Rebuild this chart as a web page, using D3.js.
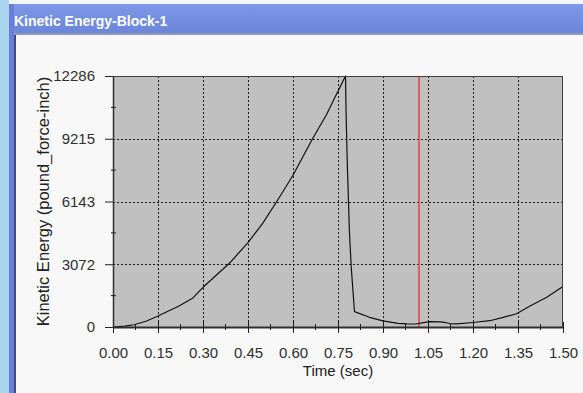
<!DOCTYPE html>
<html>
<head>
<meta charset="utf-8">
<script src="https://cdn.jsdelivr.net/npm/d3@7"></script>
<style>
  html, body { margin: 0; padding: 0; background: #f8f8f8; }
  svg { display: block; font-family: "Liberation Sans", Arial, sans-serif; }
</style>
</head>
<body>
<div id="chart"></div>
<script>
// time (sec) and kinetic energy (pound_force-inch)
const timeValues = [0, 0.04, 0.07, 0.11, 0.15, 0.22, 0.265, 0.30, 0.388, 0.45, 0.50, 0.549, 0.599, 0.666, 0.711,
  0.74, 0.775, 0.777, 0.781, 0.788, 0.794, 0.805, 0.855, 0.90, 0.95, 0.98, 1.01, 1.03, 1.056, 1.09, 1.111, 1.122,
  1.145, 1.20, 1.256, 1.301, 1.345, 1.39, 1.446, 1.496, 1.50];
const energyValues = [0, 40, 110, 280, 538, 1028, 1405, 1943, 3118, 4126, 5100, 6216, 7406, 9236, 10377,
  11250, 12286, 10450, 8000, 4700, 2950, 750, 475, 300, 181, 150, 147, 200, 260, 250, 210, 170,
  150, 220, 308, 475, 650, 1028, 1453, 1943, 1980];

const xTicks = [0, 0.15, 0.30, 0.45, 0.60, 0.75, 0.90, 1.05, 1.20, 1.35, 1.50];
const yTicks = [0, 3072, 6143, 9215, 12286];
const cursorTime = 1.02;

const title = "Kinetic Energy-Block-1";
const xLabel = "Time (sec)";
const yLabel = "Kinetic Energy (pound_force-inch)";

const width = 583, height = 393;
const plot = { left: 113, right: 563, top: 76, bottom: 327 };

const svg = d3.select("#chart").append("svg")
  .attr("width", width)
  .attr("height", height);

// window chrome
const defs = svg.append("defs");
const grad = defs.append("linearGradient").attr("id", "bar").attr("x1", 0).attr("x2", 0).attr("y1", 0).attr("y2", 1);
grad.append("stop").attr("offset", "0%").attr("stop-color", "#7d99e6");
grad.append("stop").attr("offset", "100%").attr("stop-color", "#6a85db");

svg.append("rect").attr("x", 0).attr("y", 0).attr("width", width).attr("height", height).attr("fill", "#f8f8f8");
svg.append("rect").attr("x", 0).attr("y", 0).attr("width", width).attr("height", 4).attr("fill", "#f2f4f8");
svg.append("rect").attr("x", 9).attr("y", 4).attr("width", width - 9).attr("height", 30).attr("fill", "url(#bar)");
svg.append("rect").attr("x", 9).attr("y", 33).attr("width", width - 9).attr("height", 2).attr("fill", "#8f98b8");
svg.append("rect").attr("x", 0).attr("y", 0).attr("width", 9).attr("height", height).attr("fill", "#a9d6ee");
svg.append("rect").attr("x", 9).attr("y", 4).attr("width", 5).attr("height", height).attr("fill", "#6b7dd6");
svg.append("rect").attr("x", 14).attr("y", 35).attr("width", 2).attr("height", height).attr("fill", "#3a4a8a");

svg.append("text")
  .attr("x", 14)
  .attr("y", 26)
  .attr("fill", "#ffffff")
  .attr("font-size", "14px")
  .attr("font-weight", "bold")
  .text(title);

// scales
const x = d3.scaleLinear().domain([0, 1.5]).range([plot.left, plot.right]);
const y = d3.scaleLinear().domain([0, 12286]).range([plot.bottom, plot.top]);

// plot background
svg.append("rect")
  .attr("x", plot.left)
  .attr("y", plot.top)
  .attr("width", plot.right - plot.left)
  .attr("height", plot.bottom - plot.top)
  .attr("fill", "#c0c0c0");

// dotted grid
const grid = svg.append("g").attr("stroke", "#1a1a1a").attr("stroke-width", 1).attr("stroke-dasharray", "2,2");
grid.selectAll("line.v")
  .data(xTicks.slice(1, -1))
  .enter().append("line")
  .attr("x1", d => Math.round(x(d)) + 0.5).attr("x2", d => Math.round(x(d)) + 0.5)
  .attr("y1", plot.top).attr("y2", plot.bottom);
grid.selectAll("line.h")
  .data(yTicks.slice(1, -1))
  .enter().append("line")
  .attr("x1", plot.left).attr("x2", plot.right)
  .attr("y1", d => Math.round(y(d)) + 0.5).attr("y2", d => Math.round(y(d)) + 0.5);

// cursor line
svg.append("line")
  .attr("x1", x(cursorTime)).attr("x2", x(cursorTime))
  .attr("y1", plot.top).attr("y2", plot.bottom)
  .attr("stroke", "#e04848")
  .attr("stroke-width", 1.6);

// curve
const line = d3.line().x(d => x(d[0])).y(d => y(d[1]));
svg.append("path")
  .datum(timeValues.map((t, i) => [t, energyValues[i]]))
  .attr("d", line)
  .attr("fill", "none")
  .attr("stroke", "#111")
  .attr("stroke-width", 1.2)
  .attr("stroke-linejoin", "round");

// frame
svg.append("rect")
  .attr("x", plot.left + 0.5)
  .attr("y", plot.top + 0.5)
  .attr("width", plot.right - plot.left - 1)
  .attr("height", plot.bottom - plot.top)
  .attr("fill", "none")
  .attr("stroke", "#404040");

// axes
const xAxis = svg.append("g")
  .attr("transform", `translate(0,${plot.bottom})`)
  .call(d3.axisBottom(x).tickValues(xTicks).tickFormat(d3.format(".2f")).tickSizeInner(6).tickSizeOuter(0).tickPadding(14));
xAxis.select(".domain").attr("stroke", "#303030").attr("stroke-width", 2);
xAxis.selectAll(".tick line").attr("stroke", "#202020").attr("y1", -5).attr("y2", 6);
xAxis.selectAll("text").attr("font-size", "15px").attr("fill", "#303030").attr("font-family", "Liberation Sans, Arial, sans-serif");

const yAxis = svg.append("g")
  .attr("transform", `translate(${plot.left},0)`)
  .call(d3.axisLeft(y).tickValues(yTicks).tickFormat(d3.format("d")).tickSizeInner(8).tickSizeOuter(0).tickPadding(10));
yAxis.select(".domain").attr("stroke", "#303030").attr("stroke-width", 1.5);
yAxis.selectAll(".tick line").attr("stroke", "#202020");
yAxis.selectAll("text").attr("font-size", "15px").attr("fill", "#303030").attr("font-family", "Liberation Sans, Arial, sans-serif");

// minor ticks at midpoints
const xMinor = xTicks.slice(1).map((d, i) => (d + xTicks[i]) / 2);
const yMinor = yTicks.slice(1).map((d, i) => (d + yTicks[i]) / 2);
svg.append("g").selectAll("line")
  .data(xMinor).enter().append("line")
  .attr("x1", d => x(d)).attr("x2", d => x(d))
  .attr("y1", plot.bottom - 3).attr("y2", plot.bottom + 3)
  .attr("stroke", "#202020");
svg.append("g").selectAll("line")
  .data(yMinor).enter().append("line")
  .attr("x1", plot.left - 2).attr("x2", plot.left + 3)
  .attr("y1", d => y(d)).attr("y2", d => y(d))
  .attr("stroke", "#202020");

// axis titles
svg.append("text")
  .attr("x", (plot.left + plot.right) / 2)
  .attr("y", 376)
  .attr("text-anchor", "middle")
  .attr("font-size", "15px")
  .attr("fill", "#202020")
  .text(xLabel);

svg.append("text")
  .attr("transform", `translate(49,${(plot.top + plot.bottom) / 2}) rotate(-90)`)
  .attr("text-anchor", "middle")
  .attr("font-size", "16.5px")
  .attr("fill", "#202020")
  .text(yLabel);
</script>
</body>
</html>
